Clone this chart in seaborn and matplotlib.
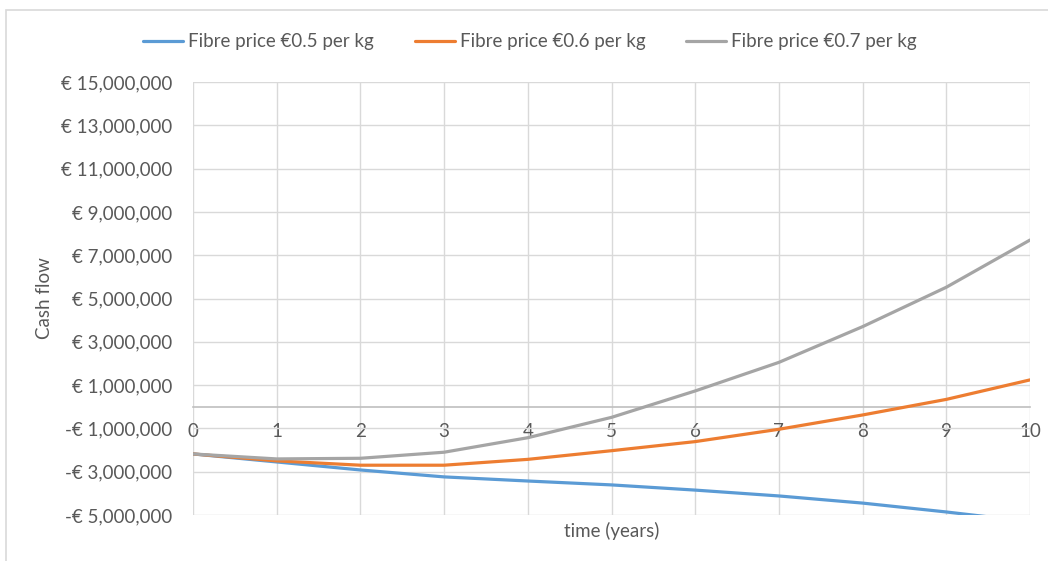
import matplotlib
matplotlib.use("Agg")
import matplotlib.pyplot as plt
import seaborn as sns
import pandas as pd
from matplotlib.patches import Rectangle
from matplotlib.ticker import FuncFormatter

years = [0, 1, 2, 3, 4, 5, 6, 7, 8, 9, 10]
price_05 = [-2.18e6, -2.55e6, -2.92e6, -3.24e6, -3.43e6, -3.61e6, -3.85e6, -4.12e6, -4.45e6, -4.86e6, -5.31e6]
price_06 = [-2.18e6, -2.50e6, -2.70e6, -2.70e6, -2.43e6, -2.03e6, -1.61e6, -1.04e6, -0.38e6, 0.34e6, 1.24e6]
price_07 = [-2.18e6, -2.41e6, -2.38e6, -2.10e6, -1.43e6, -0.49e6, 0.73e6, 2.05e6, 3.70e6, 5.52e6, 7.70e6]
series_names = ["Fibre price €0.5 per kg", "Fibre price €0.6 per kg", "Fibre price €0.7 per kg"]
colors = ["#5B9BD5", "#ED7D31", "#A5A5A5"]
y_ticks = [-5e6, -3e6, -1e6, 1e6, 3e6, 5e6, 7e6, 9e6, 11e6, 13e6, 15e6]

df = pd.concat([
    pd.DataFrame({"time": years, "cash": vals, "series": name})
    for name, vals in zip(series_names, [price_05, price_06, price_07])
])

sns.set_theme(style="white")
plt.rcParams["font.family"] = ["Lato", "DejaVu Sans"]
text_color = "#595959"
fs = 13.5

fig = plt.figure(figsize=(10.48, 5.61), dpi=100)
fig.patches.append(Rectangle((6 / 1048, -0.1), 1.2, 1 - 10 / 561 + 0.1, transform=fig.transFigure,
                             fill=False, edgecolor="#d9d9d9", linewidth=1.2, zorder=0))
ax = fig.add_axes([193 / 1048, 1 - 515 / 561, (1030 - 193) / 1048, (515 - 82) / 561])

sns.lineplot(data=df, x="time", y="cash", hue="series", palette=colors, linewidth=2.3,
             ax=ax, legend=False, zorder=3)

ax.set_xlim(0, 10)
ax.set_ylim(-5e6, 15e6)
ax.set_xticks(years)
ax.set_yticks(y_ticks)
ax.yaxis.set_major_formatter(FuncFormatter(
    lambda v, p: ("-€ " if v < 0 else "€ ") + f"{abs(v):,.0f}"))
ax.grid(True, color="#d9d9d9", linewidth=1)
ax.set_axisbelow(True)
for s in ["top", "right", "left"]:
    ax.spines[s].set_visible(False)
ax.spines["bottom"].set_position(("data", 0))
ax.spines["bottom"].set_color("#bfbfbf")
ax.spines["bottom"].set_linewidth(1.2)
ax.tick_params(axis="both", length=0, labelsize=fs, labelcolor=text_color)
ax.tick_params(axis="y", pad=15)
ax.tick_params(axis="x", pad=12)
ax.set_xlabel("")
ax.set_ylabel("")
ax.text(0.5, -0.017, "time (years)", transform=ax.transAxes, ha="center", va="top",
        fontsize=fs, color=text_color)
fig.text(45 / 1048, 1 - 298 / 561, "Cash flow", rotation=90, ha="center", va="center",
         fontsize=fs, color=text_color)

handles = [plt.Line2D([], [], color=c, linewidth=2.3) for c in colors]
leg = fig.legend(handles, series_names, loc="center", bbox_to_anchor=(530 / 1048, 1 - 42 / 561),
                 ncol=3, frameon=False, fontsize=fs, handlelength=2.13, handletextpad=0.25,
                 columnspacing=2.2)
for t in leg.get_texts():
    t.set_color(text_color)

fig.savefig("out.png", dpi=100)
